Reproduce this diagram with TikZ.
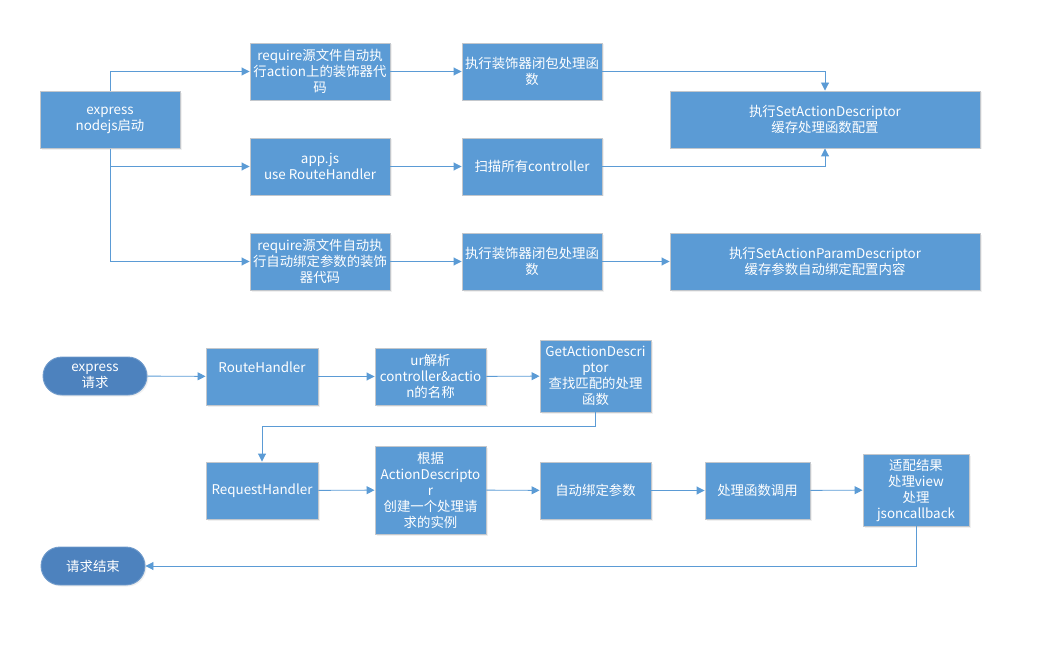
\documentclass[tikz,border=0pt]{standalone}
\usepackage{fontspec}
\setmainfont{Noto Sans CJK SC}
\usetikzlibrary{arrows.meta,shadows}
\definecolor{boxblue}{HTML}{5B9BD5}
\definecolor{termblue}{HTML}{4D82BE}
\definecolor{boxedge}{HTML}{C3C7CC}
\definecolor{lineblue}{HTML}{5B9BD5}
\tikzset{
  txt/.style={text=white,font=\fontsize{13.4}{16}\selectfont,align=center},
  box/.style={txt,rectangle,fill=boxblue,draw=boxedge,line width=0.9pt,inner sep=1pt,
    drop shadow={opacity=0.12,shadow xshift=1.5pt,shadow yshift=-1.5pt}},
  term/.style={txt,rounded rectangle,fill=termblue,draw=termblue!80!white,line width=0.9pt,inner sep=1pt,
    drop shadow={opacity=0.12,shadow xshift=1.5pt,shadow yshift=-1.5pt}},
  conn/.style={draw=lineblue,line width=0.9pt,-{Triangle[length=8pt,width=8pt]}},
}
\usetikzlibrary{shapes.misc}
\begin{document}
\begin{tikzpicture}[x=1pt,y=-1pt]
\useasboundingbox (0,0) rectangle (1048,652);
% top section
\node[box,minimum width=140pt,minimum height=57pt] (start) at (110,120) {express\\nodejs启动};
\node[box,minimum width=140pt,minimum height=57pt] (req1) at (320,71.5) {require源文件自动执\\行action上的装饰器代\\码};
\node[box,minimum width=140pt,minimum height=57pt] (app) at (320,166.5) {app.js\\use RouteHandler};
\node[box,minimum width=140pt,minimum height=57pt] (req3) at (320,261.5) {require源文件自动执\\行自动绑定参数的装饰\\器代码};
\node[box,minimum width=140pt,minimum height=57pt] (dec1) at (532,71.5) {执行装饰器闭包处理函\\数};
\node[box,minimum width=140pt,minimum height=57pt] (scan) at (532,166.5) {扫描所有controller};
\node[box,minimum width=140pt,minimum height=57pt] (dec2) at (532,261.5) {执行装饰器闭包处理函\\数};
\node[box,minimum width=310pt,minimum height=57pt] (sad) at (825,119.5) {执行SetActionDescriptor\\缓存处理函数配置};
\node[box,minimum width=310pt,minimum height=57pt] (sapd) at (825,261.5) {执行SetActionParamDescriptor\\缓存参数自动绑定配置内容};

\draw[conn] (start.north) |- (req1.west);
\draw[conn] (start.south) |- (app.west);
\draw[conn] (start.south) |- (req3.west);
\draw[conn] (req1) -- (dec1);
\draw[conn] (app) -- (scan);
\draw[conn] (req3) -- (dec2);
\draw[conn] (dec2) -- (sapd);
\draw[conn] (dec1.east) -| (sad.north);
\draw[conn] (scan.east) -| (sad.south);

% bottom section
\node[term,minimum width=106pt,minimum height=38pt] (ereq) at (95,376) {express\\请求};
\node[box,minimum width=112pt,minimum height=57pt,label={[txt,yshift=9pt]center:RouteHandler}] (rh) at (262,376.5) {};
\node[box,minimum width=111pt,minimum height=57pt] (parse) at (430.5,376.5) {ur解析\\controller\&actio\\n的名称};
\node[box,minimum width=111pt,minimum height=72pt] (gad) at (595.5,376) {GetActionDescri\\ptor\\查找匹配的处理\\函数};
\node[box,minimum width=112pt,minimum height=57pt] (reqh) at (262,490.5) {RequestHandler};
\node[box,minimum width=111pt,minimum height=88pt] (inst) at (430.5,490) {根据\\ActionDescripto\\r\\创建一个处理请\\求的实例};
\node[box,minimum width=111pt,minimum height=57pt] (bind) at (595.5,490.5) {自动绑定参数};
\node[box,minimum width=105pt,minimum height=57pt] (call) at (757.5,490.5) {处理函数调用};
\node[box,minimum width=106pt,minimum height=72pt] (adapt) at (916,490) {适配结果\\处理view\\处理\\jsoncallback};
\node[term,minimum width=106pt,minimum height=38pt] (end) at (93,566) {请求结束};

\coordinate (g1) at (595.5,426);
\coordinate (g2) at (262,426);
\coordinate (a1) at (916,566);
\draw[conn] (ereq) -- (rh);
\draw[conn] (rh) -- (parse);
\draw[conn] (parse) -- (gad);
\draw[conn] (gad.south) -- (g1) -- (g2) -- (reqh.north);
\draw[conn] (reqh) -- (inst);
\draw[conn] (inst) -- (bind);
\draw[conn] (bind) -- (call);
\draw[conn] (call) -- (adapt);
\draw[conn] (adapt.south) -- (a1) -- (end.east);
\end{tikzpicture}
\end{document}
